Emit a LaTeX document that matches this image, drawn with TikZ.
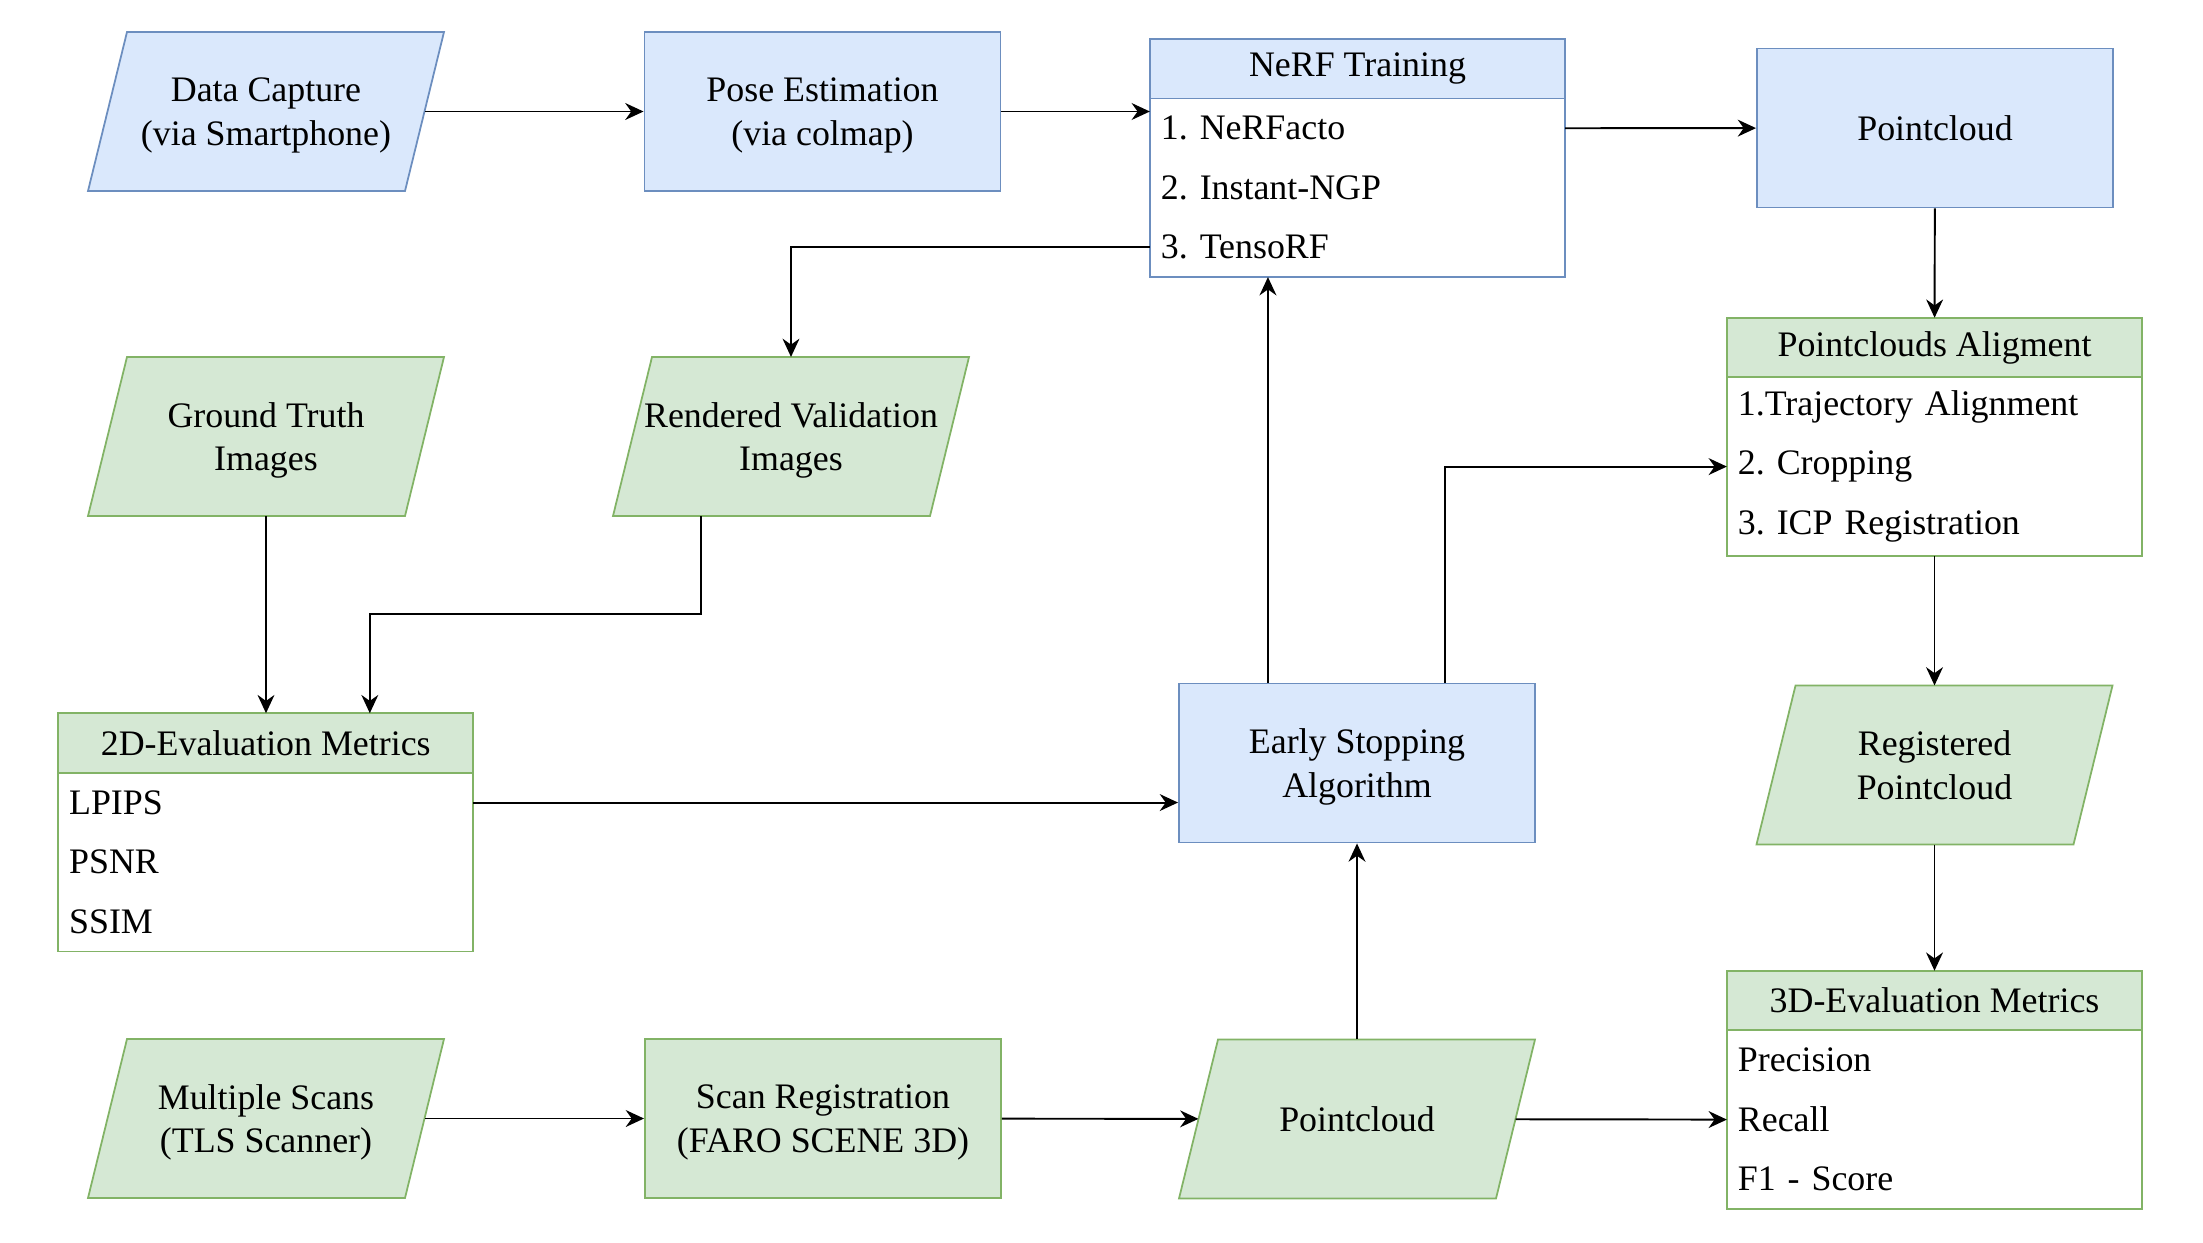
\documentclass[tikz,border=0pt]{standalone}
\usepackage{fontspec}
\setmainfont{Liberation Serif}
\usepackage{tikz}
\usetikzlibrary{shapes.geometric, arrows.meta, positioning}

\definecolor{blueFill}{HTML}{DAE8FC}
\definecolor{blueLine}{HTML}{6C8EBF}
\definecolor{greenFill}{HTML}{D5E8D4}
\definecolor{greenLine}{HTML}{82B366}

% parallelogram: colour style, name, centre, text
\newcommand{\paranode}[4]{%
  \draw[#1, line width=0.5pt] (#3) ++(-139,-79.5) -- ++(317,0) -- ++(-39,159) -- ++(-317,0) -- cycle;
  \node[paratext] (#2) at (#3) {#4};}

\begin{document}
\begin{tikzpicture}[x=0.01cm, y=-0.01cm,
    font=\fontsize{10.2pt}{12.4pt}\selectfont\frenchspacing,
    box/.style={rectangle, draw, line width=0.5pt, minimum width=3.56cm, minimum height=1.59cm, align=center, inner sep=2pt, text depth=0pt},
    paratext/.style={rectangle, minimum width=3.17cm, minimum height=1.59cm, align=center, inner sep=0pt, outer sep=0pt, text depth=0pt},
    head/.style={rectangle, draw, line width=0.5pt, minimum width=4.15cm, minimum height=0.595cm, inner sep=0pt, outer sep=0pt},
    row/.style={rectangle, minimum width=4.15cm, minimum height=0.595cm, text width=3.93cm, inner xsep=0.11cm, inner ysep=0pt, outer sep=0pt, align=left},
    bluebox/.style={fill=blueFill, draw=blueLine},
    greenbox/.style={fill=greenFill, draw=greenLine},
    arrow/.style={-{Stealth[length=5.2pt, width=4.8pt, inset=1.7pt]}, line width=0.55pt}
]
\useasboundingbox (0,0) rectangle (2203,1242);

% Smartphone capture and NeRF
\paranode{bluebox}{cap}{266,111.5}{Data Capture\\(via Smartphone)}
\node[box, bluebox] (pose) at (822.5,111.5) {Pose Estimation\\(via colmap)};
\node[head, bluebox] (nerf) at (1357.5,68.7) {NeRF Training};
\node[row, below=0pt of nerf] (nerf1) {1. NeRFacto};
\node[row, below=0pt of nerf1] (nerf2) {2. Instant-NGP};
\node[row, below=0pt of nerf2] (nerf3) {3. TensoRF};
\draw[blueLine, line width=0.5pt] (nerf1.north west) rectangle (nerf3.south east);
\node[box, bluebox] (pcnerf) at (1935,128) {Pointcloud};

% Alignment and 3D evaluation
\node[head, greenbox] (align) at (1934.5,347.5) {Pointclouds Aligment};
\node[row, below=0pt of align] (align1) {1.Trajectory Alignment};
\node[row, below=0pt of align1] (align2) {2. Cropping};
\node[row, below=0pt of align2] (align3) {3. ICP Registration};
\draw[greenLine, line width=0.5pt] (align1.north west) rectangle (align3.south east);
\paranode{greenbox}{reg}{1934.5,765}{Registered\\Pointcloud}
\node[head, greenbox] (ev3) at (1934.5,1000.5) {3D-Evaluation Metrics};
\node[row, below=0pt of ev3] (ev3a) {Precision};
\node[row, below=0pt of ev3a] (ev3b) {Recall};
\node[row, below=0pt of ev3b] (ev3c) {F1 - Score};
\draw[greenLine, line width=0.5pt] (ev3a.north west) rectangle (ev3c.south east);

% 2D evaluation
\paranode{greenbox}{gt}{266,436.5}{Ground Truth\\Images}
\paranode{greenbox}{rend}{791,436.5}{Rendered Validation\\Images}
\node[head, greenbox] (ev2) at (265.75,743) {2D-Evaluation Metrics};
\node[row, below=0pt of ev2] (ev2a) {LPIPS};
\node[row, below=0pt of ev2a] (ev2b) {PSNR};
\node[row, below=0pt of ev2b] (ev2c) {SSIM};
\draw[greenLine, line width=0.5pt] (ev2a.north west) rectangle (ev2c.south east);
\node[box, bluebox] (stop) at (1357,763) {Early Stopping\\Algorithm};

% TLS reference
\paranode{greenbox}{scans}{266,1118.5}{Multiple Scans\\(TLS Scanner)}
\node[box, greenbox] (sreg) at (823,1118.5) {Scan Registration\\(FARO SCENE 3D)};
\paranode{greenbox}{pctls}{1357,1119}{Pointcloud}

% Arrows
\draw[arrow] (cap) -- (pose);
\draw[arrow] (pose) -- (pose -| nerf.west);
\draw[arrow] (nerf1.east) -- (pcnerf);
\draw[arrow] (pcnerf) -- (align);
\draw[arrow] (nerf3.west) -| (rend.north);
\draw[arrow] (gt.south) -- (gt.south |- ev2.north);
\draw[arrow] ([xshift=-0.9cm]rend.south) -- ++(0,98) -| ([xshift=1.04cm]ev2.north);
\draw[arrow] (ev2a.east) -- (ev2a.east -| stop.west);
\draw[arrow] ([xshift=-0.89cm]stop.north) -- ([xshift=-0.89cm]stop.north |- nerf3.south);
\draw[arrow] ([xshift=0.88cm]stop.north) |- (align2.west);
\draw[arrow] (align3.south) -- (reg);
\draw[arrow] (reg) -- (ev3);
\draw[arrow] (scans) -- (sreg);
\draw[arrow] (sreg) -- (pctls);
\draw[arrow] (pctls) -- (stop);
\draw[arrow] (pctls) -- (ev3b.west);

\end{tikzpicture}
\end{document}
